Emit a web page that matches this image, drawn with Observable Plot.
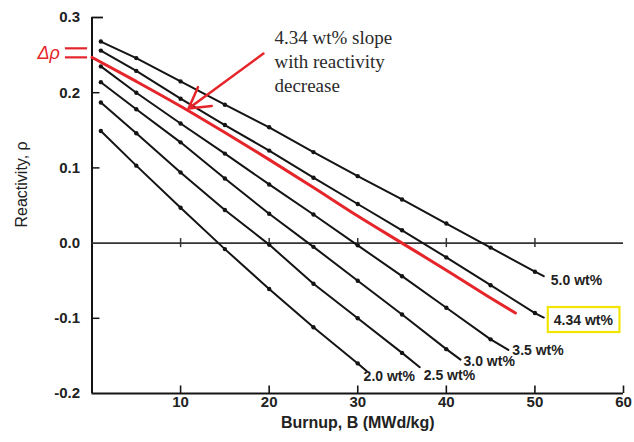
<!DOCTYPE html>
<html><head><meta charset="utf-8">
<script src="https://cdn.jsdelivr.net/npm/d3@7"></script>
<script src="https://cdn.jsdelivr.net/npm/@observablehq/plot@0.6"></script>
<style>
body{margin:0;background:#fff;}
#chart svg{display:block;}
</style>
</head><body><div id="chart"></div>
<script>
// ---- data ----
const seriesNames = ["5.0 wt%", "4.34 wt%", "3.5 wt%", "3.0 wt%", "2.5 wt%", "2.0 wt%"];

const burnup_50  = [1, 5, 10, 15, 20, 25, 30, 35, 40, 45, 50, 51];
const rho_50     = [0.268, 0.246, 0.215, 0.184, 0.154, 0.121, 0.089, 0.058, 0.026, -0.006, -0.038, -0.044];

const burnup_434 = [1, 5, 10, 15, 20, 25, 30, 35, 40, 45, 50, 51];
const rho_434    = [0.256, 0.229, 0.192, 0.157, 0.123, 0.087, 0.052, 0.017, -0.019, -0.056, -0.093, -0.099];

const burnup_35  = [1, 5, 10, 15, 20, 25, 30, 35, 40, 45, 47];
const rho_35     = [0.235, 0.200, 0.159, 0.119, 0.078, 0.038, -0.003, -0.044, -0.086, -0.128, -0.142];

const burnup_30  = [1, 5, 10, 15, 20, 25, 30, 35, 40, 41.6];
const rho_30     = [0.214, 0.178, 0.134, 0.086, 0.039, -0.005, -0.050, -0.095, -0.141, -0.155];

const burnup_25  = [1, 5, 10, 15, 20, 25, 30, 35, 37];
const rho_25     = [0.187, 0.146, 0.094, 0.044, -0.002, -0.054, -0.100, -0.146, -0.165];

const burnup_20  = [1, 5, 10, 15, 20, 25, 30, 31];
const rho_20     = [0.149, 0.103, 0.047, -0.008, -0.061, -0.112, -0.160, -0.170];

// red 4.34 wt% slope line
const redBurnup  = [0, 5, 10, 15, 20, 25, 30, 35, 40, 45, 47.8];
const redRho     = [0.247, 0.215, 0.182, 0.147, 0.111, 0.074, 0.036, 0.000, -0.036, -0.073, -0.093];

const xTicks = [10, 20, 30, 40, 50, 60];
const yTicks = [-0.2, -0.1, 0, 0.1, 0.2, 0.3];
const zeroLineTicks = [10, 20, 30, 40, 50];

const annotationText = "4.34 wt% slope\nwith reactivity\ndecrease";
const annotationPos = {x: 20.6, y: 0.287};
const arrowFrom = {x: 19.35, y: 0.252};
const arrowTo = {x: 10.9, y: 0.179};
const deltaLevels = [0.259, 0.247];
const xLabel = "Burnup, B (MWd/kg)";
const yLabel = "Reactivity, ρ";

// ---- build rows ----
const seriesB = [burnup_50, burnup_434, burnup_35, burnup_30, burnup_25, burnup_20];
const seriesR = [rho_50, rho_434, rho_35, rho_30, rho_25, rho_20];
const rows = seriesNames.flatMap((name, i) => seriesB[i].map((b, j) => ({name, b, r: seriesR[i][j], dot: (b === 1 || b % 5 === 0)})));
const redRows = redBurnup.map((b, j) => ({b, r: redRho[j]}));
const ends = seriesNames.map((name, i) => ({name, b: seriesB[i][seriesB[i].length - 1], r: seriesR[i][seriesR[i].length - 1]}));

// label offsets (px) – styling
const labelOffsets = {"5.0 wt%": [7, 4], "4.34 wt%": [10, 3], "3.5 wt%": [4, 1], "3.0 wt%": [3, 2], "2.5 wt%": [4, 8], "2.0 wt%": [-3, 6]};

const ink = "#141414";
const red = "#e5252a";
const font = "'Liberation Sans', Arial, sans-serif";

const labelMarks = ends.map(e => Plot.text([e], {
  x: "b", y: "r", text: "name", textAnchor: "start",
  dx: labelOffsets[e.name][0], dy: labelOffsets[e.name][1],
  fontSize: 14, fontWeight: "bold", fill: "#222"
}));

const plot = Plot.plot({
  width: 634, height: 442,
  marginLeft: 91.5, marginRight: 11, marginTop: 17, marginBottom: 49,
  x: {domain: [0, 60]},
  y: {domain: [-0.2, 0.3]},
  style: {fontFamily: font, background: "#fff", color: ink},
  marks: [
    // axes frame
    Plot.ruleX([0], {y1: -0.2, y2: 0.3, stroke: ink, strokeWidth: 2}),
    Plot.ruleY([-0.2], {x1: 0, x2: 60, stroke: ink, strokeWidth: 2}),
    Plot.ruleY([0], {x1: 0, x2: 60, stroke: "#333", strokeWidth: 1.6}),
    Plot.ruleX(zeroLineTicks, {y1: -0.006, y2: 0.006, stroke: "#333", strokeWidth: 1.5}),
    Plot.ruleX(xTicks, {y1: -0.2, y2: -0.19, stroke: ink, strokeWidth: 1.6}),
    Plot.ruleY([0.2, 0.1, -0.1], {x1: 0, x2: 0.9, stroke: ink, strokeWidth: 1.5}),
    Plot.ruleY([0.3], {x1: 0, x2: 1.3, stroke: ink, strokeWidth: 1.8}),
    Plot.axisX(xTicks, {tickSize: 0, tickPadding: 3, fontSize: 15, fontWeight: "bold", fill: "#222", label: null}),
    Plot.axisY(yTicks, {tickSize: 0, tickPadding: 12, fontSize: 15, fontWeight: "bold", fill: "#222", label: null, tickFormat: d => d.toFixed(1)}),
    Plot.text([xLabel], {frameAnchor: "bottom", dy: 34, fontSize: 16, fontWeight: "bold", fill: "#222"}),
    Plot.text([yLabel], {frameAnchor: "left", dx: -70, dy: 22, rotate: -90, fontSize: 16, fill: "#222"}),
    // data
    Plot.line(rows, {x: "b", y: "r", z: "name", stroke: ink, strokeWidth: 2}),
    Plot.dot(rows.filter(d => d.dot), {x: "b", y: "r", r: 2.2, fill: ink}),
    Plot.line(redRows, {x: "b", y: "r", stroke: red, strokeWidth: 3, curve: "monotone-x"}),
    ...labelMarks,
    // annotations
    Plot.arrow([0], {x1: () => arrowFrom.x, y1: () => arrowFrom.y, x2: () => arrowTo.x, y2: () => arrowTo.y, stroke: red, strokeWidth: 2.5, headLength: 14}),
    Plot.text([annotationText], {x: () => annotationPos.x, y: () => annotationPos.y, textAnchor: "start", lineAnchor: "top", lineHeight: 1.25, fontSize: 19, fontFamily: "'Liberation Serif', 'DejaVu Serif', serif", fill: "#2a2a2a"}),
    Plot.ruleY(deltaLevels, {x1: -3.0, x2: -0.5, stroke: red, strokeWidth: 2.2}),
    Plot.text(["Δρ"], {x: () => -4.9, y: () => 0.252, fontSize: 18, fontStyle: "italic", fill: red, textAnchor: "middle"})
  ]
});

document.getElementById("chart").appendChild(plot);

// yellow box around the 4.34 wt% label
d3.select(plot).selectAll("text").each(function() {
  if (this.textContent === "4.34 wt%") {
    const bb = this.getBBox();
    const ctm = this.getCTM();
    const svg = plot;
    const p = svg.createSVGPoint();
    p.x = bb.x; p.y = bb.y;
    const tl = p.matrixTransform(ctm);
    d3.select(svg).append("rect")
      .attr("x", tl.x - 6).attr("y", tl.y - 5)
      .attr("width", bb.width + 12).attr("height", bb.height + 9)
      .attr("fill", "none").attr("stroke", "#f2e600").attr("stroke-width", 2.2);
  }
});
</script>
</body></html>
